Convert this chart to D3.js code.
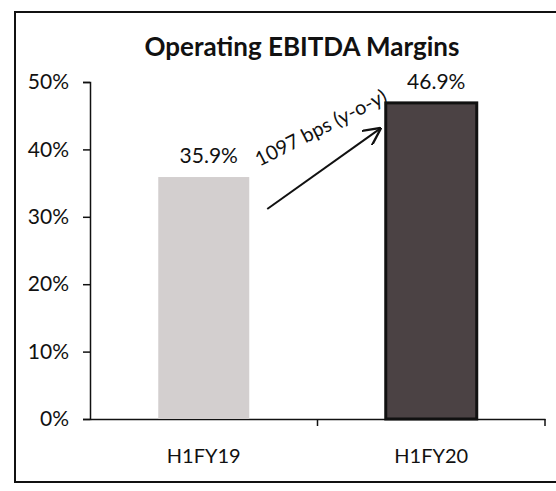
<!DOCTYPE html>
<html>
<head>
<meta charset="utf-8">
<script src="https://cdn.jsdelivr.net/npm/d3@7"></script>
<style>
  body { margin: 0; background: #fff; }
  text { font-family: Lato, "Open Sans", sans-serif; fill: #111; }
</style>
</head>
<body>
<script>
// data
var periods = ["H1FY19", "H1FY20"];
var margins = [35.9, 46.9];
var marginLabels = ["35.9%", "46.9%"];
var yTicks = [0, 10, 20, 30, 40, 50];
var annotation = "1097 bps (y-o-y)";

var W = 556, H = 491;
var svg = d3.select("body").append("svg")
    .attr("width", W)
    .attr("height", H);

// frame
svg.append("rect")
    .attr("x", 15).attr("y", 12)
    .attr("width", 560).attr("height", 470)
    .attr("fill", "none").attr("stroke", "#111").attr("stroke-width", 2);

svg.append("text")
    .text("Operating EBITDA Margins")
    .attr("x", 302).attr("y", 56)
    .attr("text-anchor", "middle")
    .style("font-size", "26px").style("font-weight", "bold");

var x = d3.scaleBand().domain(periods).range([90, 545]);
var y = d3.scaleLinear().domain([0, 50]).range([419, 82]);

// y axis
var yAxis = svg.append("g")
    .attr("transform", "translate(90,0)")
    .call(d3.axisLeft(y).tickValues(yTicks).tickFormat(function (d) { return d + "%"; })
      .tickSize(7).tickPadding(14));
yAxis.selectAll("text").style("font-size", "21px");
yAxis.selectAll("line, path").attr("stroke", "#111").attr("stroke-width", 1.5);

// x axis
var xAxis = svg.append("g")
    .attr("transform", "translate(0,419)")
    .call(d3.axisBottom(x).tickSizeInner(0).tickSizeOuter(0).tickPadding(30));
xAxis.selectAll("text").style("font-size", "20px");
xAxis.select("path").attr("stroke", "#111").attr("stroke-width", 1.5);
xAxis.selectAll("line.mid").data([x("H1FY20"), 545]).enter().append("line")
    .attr("x1", function (d) { return d; }).attr("x2", function (d) { return d; })
    .attr("y1", 0).attr("y2", 7)
    .attr("stroke", "#111").attr("stroke-width", 1.5);

// bars
var bw = x.bandwidth() * 0.4;
var fills = ["#d3cfcf", "#4b4244"];
svg.selectAll("rect.bar").data(margins).enter().append("rect")
    .attr("class", "bar")
    .attr("x", function (d, i) { return x(periods[i]) + x.bandwidth() / 2 - bw / 2; })
    .attr("y", function (d) { return y(d); })
    .attr("width", bw)
    .attr("height", function (d) { return 419 - y(d); })
    .attr("fill", function (d, i) { return fills[i]; })
    .attr("stroke", function (d, i) { return i == 1 ? "#111" : "none"; })
    .attr("stroke-width", 3);

svg.selectAll("text.val").data(margins).enter().append("text")
    .attr("class", "val")
    .text(function (d, i) { return marginLabels[i]; })
    .attr("x", function (d, i) { return x(periods[i]) + x.bandwidth() / 2 + 5; })
    .attr("y", function (d) { return y(d) - 14; })
    .attr("text-anchor", "middle")
    .style("font-size", "21px");

// arrow
svg.append("defs").append("marker")
    .attr("id", "arr").attr("viewBox", "0 0 10 10")
    .attr("refX", 9).attr("refY", 5)
    .attr("markerWidth", 9).attr("markerHeight", 9)
    .attr("orient", "auto")
    .append("path").attr("d", "M0,0 L10,5 L0,10")
    .attr("fill", "none").attr("stroke", "#111").attr("stroke-width", 1.3);

var x0 = x(periods[0]) + x.bandwidth() / 2 + bw / 2 + 18;
var x1 = x(periods[1]) + x.bandwidth() / 2 - bw / 2 - 6;
svg.append("line")
    .attr("x1", x0).attr("y1", y(margins[0]) + 32)
    .attr("x2", x1).attr("y2", y(margins[1]) + 26)
    .attr("stroke", "#111").attr("stroke-width", 2)
    .attr("marker-end", "url(#arr)");

svg.append("text")
    .text(annotation)
    .attr("transform", "translate(324,134) rotate(-27)")
    .attr("text-anchor", "middle")
    .style("font-size", "20px");
</script>
</body>
</html>
